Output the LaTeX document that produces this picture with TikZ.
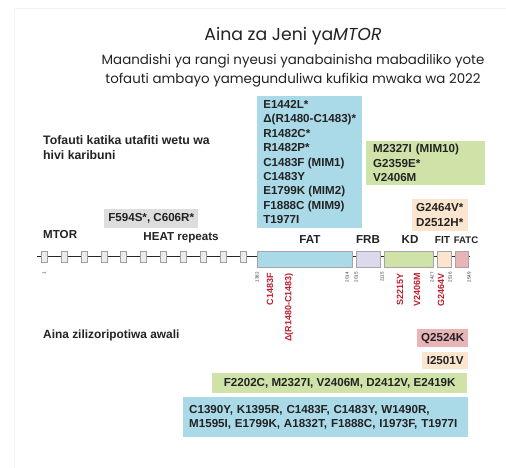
\documentclass[tikz,border=0pt]{standalone}
\usepackage{fontspec}
\setmainfont{Liberation Sans}
\newfontfamily\titlefont{Poppins}
\definecolor{cblue}{RGB}{170,217,232}
\definecolor{cgreen}{RGB}{207,227,168}
\definecolor{corange}{RGB}{252,229,206}
\definecolor{cpink}{RGB}{232,180,182}
\definecolor{cfrb}{RGB}{222,216,236}
\definecolor{cgrey}{RGB}{221,221,221}
\definecolor{cred}{RGB}{190,30,45}
\definecolor{ctext}{RGB}{35,35,35}
\tikzset{
  lbl/.style={font=\fontsize{11.6}{14.4}\selectfont\bfseries, text=ctext, inner sep=0pt},
  mbox/.style={lbl, align=left, inner xsep=6pt, inner ysep=0pt},
  dom/.style={draw=gray!70, line width=0.4pt, minimum height=16pt, inner sep=0pt, anchor=north west},
  heat/.style={draw=gray!75, fill=gray!15, line width=0.4pt, minimum width=6pt, minimum height=11pt, inner sep=0pt},
  tick/.style={font=\fontsize{4.5}{5}\selectfont, text=gray!40!black, rotate=90, anchor=east, inner sep=0pt},
  mut/.style={font=\fontsize{9}{10}\selectfont\bfseries, text=cred, rotate=90, anchor=east, inner sep=0pt},
}
\begin{document}
\begin{tikzpicture}[x=1pt,y=-1pt]
\useasboundingbox[fill=white] (0,0) rectangle (506,468);
\draw[gray!10, line width=0.8pt] (14,468) -- (14,8) -- (506,8);

% titles
\node[text=ctext, inner sep=0pt, font=\titlefont\fontsize{17.3}{20}\selectfont] (title) at (293,36) {Aina za Jeni ya\textit{MTOR}};
\node[text=ctext, inner sep=0pt, align=center, font=\titlefont\fontsize{13.4}{18.5}\selectfont] (sub) at (293,70.5) {Maandishi ya rangi nyeusi yanabainisha mabadiliko yote\\ tofauti ambayo yamegunduliwa kufikia mwaka wa 2022};

% section labels
\node[lbl, align=left, anchor=west, font=\fontsize{12.3}{15}\selectfont\bfseries] (recent) at (43,147.5) {Tofauti katika utafiti wetu wa\\hivi karibuni};
\node[lbl, anchor=west, font=\fontsize{11.9}{14}\selectfont\bfseries] (prev) at (43,335) {Aina zilizoripotiwa awali};

% recent variant boxes
\node[mbox, fill=cblue, minimum width=105pt, minimum height=132pt, inner xsep=4pt, anchor=north west] (fatbox) at (257,96)
  {E1442L*\\Δ(R1480-C1483)*\\R1482C*\\R1482P*\\C1483F (MIM1)\\C1483Y\\E1799K (MIM2)\\F1888C (MIM9)\\T1977I};
\node[mbox, fill=cgreen, text width=105pt, minimum height=44pt, anchor=north west, inner xsep=7pt] (kdbox) at (366,141)
  {M2327I (MIM10)\\G2359E*\\V2406M};
\node[mbox, fill=corange, text width=48pt, minimum height=32pt, anchor=north west, inner xsep=4pt] (fitbox) at (412,199)
  {G2464V*\\D2512H*};
\node[lbl, fill=cgrey, minimum width=94pt, minimum height=19pt, anchor=north west] (heatbox) at (104,209) {F594S*, C606R*};

% protein schematic
\node[lbl, anchor=west] (mtor) at (43,235) {MTOR};
\node[lbl] (heatlbl) at (181,238) {HEAT repeats};
\node[lbl] (fatlbl) at (310,240) {FAT};
\node[lbl] (frblbl) at (368,240) {FRB};
\node[lbl] (kdlbl) at (410,240) {KD};
\node[lbl, font=\fontsize{10.2}{12}\selectfont\bfseries] (fitlbl) at (442.5,240) {FIT};
\node[lbl, font=\fontsize{9.6}{12}\selectfont\bfseries] (fatclbl) at (466,240) {FATC};

\coordinate (pstart) at (37,256.5);
\coordinate (pend) at (470,256.5);
\draw[gray!30!black, line width=1pt] (pstart) -- (pend);
\foreach \i in {0,...,10} {
  \node[heat] (h\i) at ({44+19.9*\i},256.5) {};
}
\node[dom, fill=cblue, minimum width=95pt] (fat) at (257,251) {};
\node[dom, fill=cfrb, minimum width=24pt] (frb) at (356,251) {};
\node[dom, fill=cgreen, minimum width=49pt] (kd) at (384,251) {};
\node[dom, fill=corange, minimum width=14pt] (fit) at (437,251) {};
\node[dom, fill=cpink, minimum width=13pt] (fatc) at (455,251) {};

% tick labels
\node[tick] (t1) at (44,272) {1};
\node[tick] (t1382) at (257,272) {1382};
\node[tick] (t2014) at (347,272) {2014};
\node[tick] (t2015) at (356,272) {2015};
\node[tick] (t2115) at (382,272) {2115};
\node[tick] (t2427) at (432,272) {2427};
\node[tick] (t2516) at (450,272) {2516};
\node[tick] (t2549) at (469,272) {2549};

% red mutations
\node[mut] (m1) at (270,273) {C1483F};
\node[mut] (m2) at (289,273) {Δ(R1480-C1483)};
\node[mut] (m3) at (400,273) {S2215Y};
\node[mut] (m4) at (417,273) {V2406M};
\node[mut] (m5) at (441,273) {G2464V};

% previously reported
\node[lbl, fill=cpink, minimum width=51pt, minimum height=18pt, anchor=north west] (q) at (417,329) {Q2524K};
\node[lbl, fill=corange, minimum width=46pt, minimum height=17pt, anchor=north west] (i) at (422,352) {I2501V};
\node[lbl, fill=cgreen, minimum width=255pt, minimum height=20pt, anchor=north west] (g) at (212,373) {F2202C, M2327I, V2406M, D2412V, E2419K};
\node[mbox, fill=cblue, text width=273pt, minimum height=40pt, anchor=north west, font=\fontsize{11.6}{14}\selectfont\bfseries] (b) at (183,397)
  {C1390Y, K1395R, C1483F, C1483Y, W1490R,\\M1595I, E1799K, A1832T, F1888C, I1973F, T1977I};
\end{tikzpicture}
\end{document}
